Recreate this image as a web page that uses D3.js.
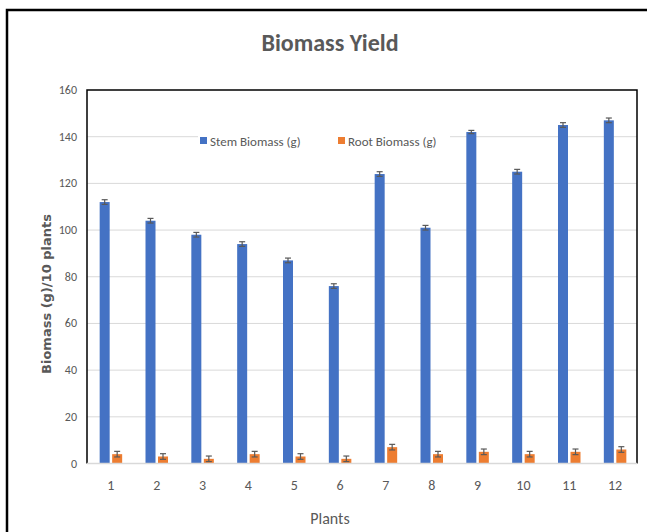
<!DOCTYPE html>
<html>
<head>
<meta charset="utf-8">
<script src="https://cdn.jsdelivr.net/npm/d3@7"></script>
<style>
  body { margin: 0; background: #fff; }
  text { font-family: Carlito, "Liberation Sans Narrow", "Open Sans", sans-serif; fill: #595959; }
</style>
</head>
<body>
<script>
// chart data
const plants = ['1','2','3','4','5','6','7','8','9','10','11','12'];
const stem = [112, 104, 98, 94, 87, 76, 124, 101, 142, 125, 145, 147];
const stemErr = [1, 1, 1, 1, 1, 1, 1, 1, 0.7, 1, 1, 1];
const root = [4, 3, 2, 4, 3, 2, 7, 4, 5, 4, 5, 6];
const rootErr = [1.2, 1.2, 1.2, 1.2, 1.2, 1.2, 1.2, 1.2, 1.2, 1.2, 1.2, 1.2];
const yTicks = [0, 20, 40, 60, 80, 100, 120, 140, 160];
const seriesNames = ['Stem Biomass (g)', 'Root Biomass (g)'];
const colors = ['#4472C4', '#ED7D31'];

const W = 647, H = 532;
const pLeft = 87, pRight = 637, pTop = 90, pBottom = 463.5;

const svg = d3.select('body').append('svg')
  .attr('width', W).attr('height', H);

// outer frame
svg.append('rect')
  .attr('x', 7).attr('y', 10).attr('width', 660).attr('height', 540)
  .attr('fill', 'none').attr('stroke', '#000').attr('stroke-width', 2.5);

const x = d3.scaleBand().domain(plants).range([pLeft, pRight]);
const y = d3.scaleLinear().domain([0, 160]).range([pBottom, pTop]);

// gridlines
svg.append('g').selectAll('line')
  .data(yTicks.filter(d => d > 0 && d < 160))
  .enter().append('line')
  .attr('x1', pLeft).attr('x2', pRight)
  .attr('y1', d => y(d)).attr('y2', d => y(d))
  .attr('stroke', '#d9d9d9').attr('stroke-width', 1);

// y tick labels
svg.append('g').selectAll('text')
  .data(yTicks).enter().append('text')
  .attr('x', pLeft - 10).attr('y', d => y(d) + 4)
  .attr('text-anchor', 'end')
  .style('font-size', '12px')
  .text(d => d);

// x tick labels
svg.append('g').selectAll('text')
  .data(plants).enter().append('text')
  .attr('x', d => x(d) + x.bandwidth() / 2 + 1)
  .attr('y', 490)
  .attr('text-anchor', 'middle')
  .style('font-size', '14px')
  .text(d => d);

const barW = 10, gap = 2.5;
const series = [stem, root];
const errs = [stemErr, rootErr];

series.forEach((vals, s) => {
  const off = s === 0 ? -barW - gap / 2 + 1 : gap / 2 + 1;
  const g = svg.append('g');
  g.selectAll('rect')
    .data(vals).enter().append('rect')
    .attr('x', (d, i) => x(plants[i]) + x.bandwidth() / 2 + off)
    .attr('y', d => y(d))
    .attr('width', barW)
    .attr('height', d => pBottom - y(d))
    .attr('fill', colors[s]);
  // error bars
  const eb = g.selectAll('g.err')
    .data(vals).enter().append('g')
    .attr('stroke', '#595959').attr('stroke-width', 1.2);
  eb.append('line')
    .attr('x1', (d, i) => x(plants[i]) + x.bandwidth() / 2 + off + barW / 2)
    .attr('x2', (d, i) => x(plants[i]) + x.bandwidth() / 2 + off + barW / 2)
    .attr('y1', (d, i) => y(d + errs[s][i]))
    .attr('y2', (d, i) => y(d - errs[s][i]));
  [1, -1].forEach(sign => {
    eb.append('line')
      .attr('x1', (d, i) => x(plants[i]) + x.bandwidth() / 2 + off + barW / 2 - 3)
      .attr('x2', (d, i) => x(plants[i]) + x.bandwidth() / 2 + off + barW / 2 + 3)
      .attr('y1', (d, i) => y(d + sign * errs[s][i]))
      .attr('y2', (d, i) => y(d + sign * errs[s][i]));
  });
});

// plot border: black left/top/right, gray baseline
svg.append('path')
  .attr('d', `M${pLeft},${pBottom}V${pTop}H${pRight}V${pBottom}`)
  .attr('fill', 'none').attr('stroke', '#000').attr('stroke-width', 1.5);
svg.append('line')
  .attr('x1', pLeft).attr('x2', pRight).attr('y1', pBottom).attr('y2', pBottom)
  .attr('stroke', '#d9d9d9').attr('stroke-width', 1.5);

// legend
svg.append('rect').attr('x', 198).attr('y', 130).attr('width', 252).attr('height', 20).attr('fill', '#fff');
const legX = [200, 338];
seriesNames.forEach((n, i) => {
  svg.append('rect').attr('x', legX[i]).attr('y', 137).attr('width', 7).attr('height', 7).attr('fill', colors[i]);
  svg.append('text').attr('x', legX[i] + 10).attr('y', 145.5)
    .style('font-size', '13px').text(n);
});

// title
svg.append('text').attr('x', 330).attr('y', 51)
  .attr('text-anchor', 'middle')
  .style('font-size', '24px').style('font-weight', 'bold')
  .text('Biomass Yield');

// axis titles
svg.append('text').attr('transform', 'translate(51,294) rotate(-90)')
  .attr('text-anchor', 'middle')
  .style('font-family', '"DejaVu Sans", sans-serif')
  .style('font-size', '13px').style('font-weight', 'bold')
  .text('Biomass (g)/10 plants');

svg.append('text').attr('x', 330).attr('y', 524)
  .attr('text-anchor', 'middle')
  .style('font-size', '16px')
  .text('Plants');
</script>
</body>
</html>
